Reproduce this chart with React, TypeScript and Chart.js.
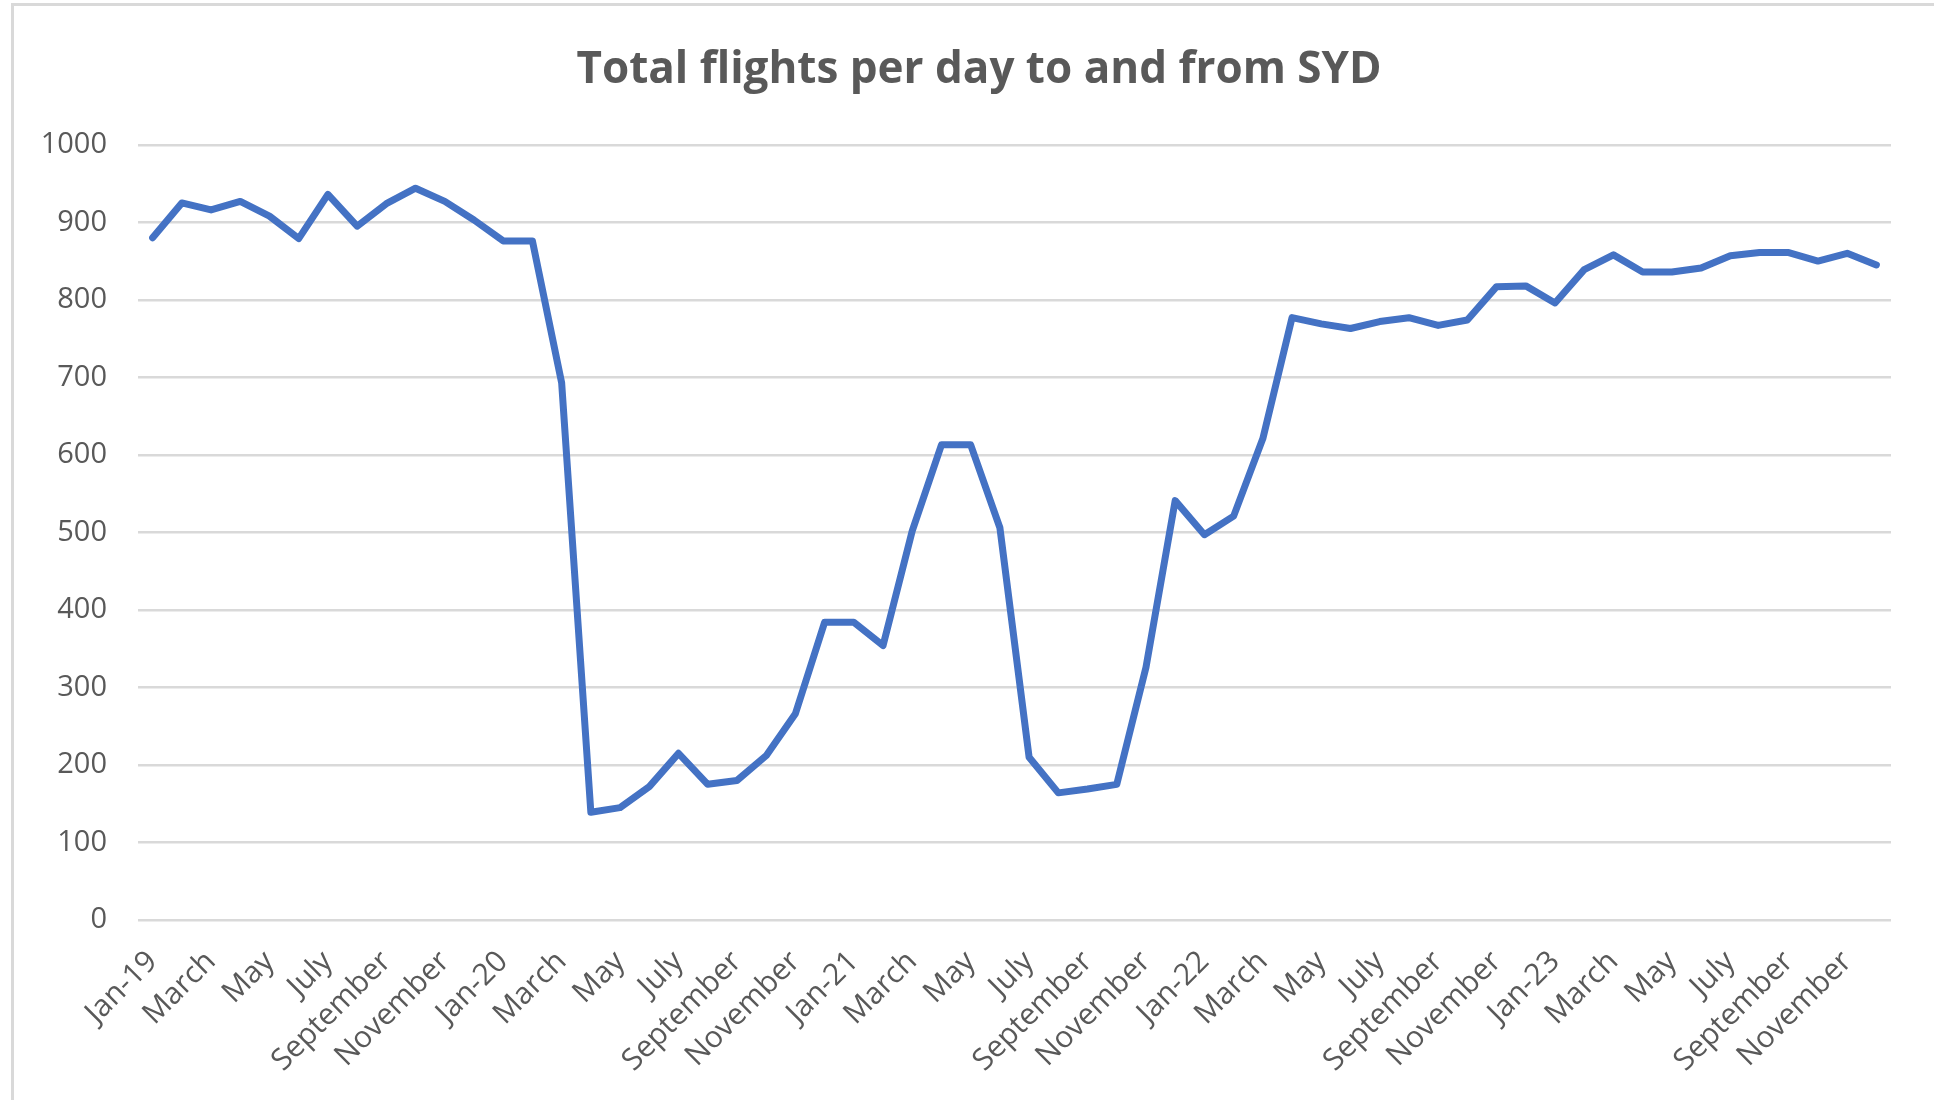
import React, { useEffect, useRef } from "react";
import { Chart, registerables } from "chart.js";

Chart.register(...registerables);

const TITLE = "Total flights per day to and from SYD";

const categories: string[] = [
  "Jan-19", "February", "March", "April", "May", "June", "July", "August", "September", "October", "November", "December",
  "Jan-20", "February", "March", "April", "May", "June", "July", "August", "September", "October", "November", "December",
  "Jan-21", "February", "March", "April", "May", "June", "July", "August", "September", "October", "November", "December",
  "Jan-22", "February", "March", "April", "May", "June", "July", "August", "September", "October", "November", "December",
  "Jan-23", "February", "March", "April", "May", "June", "July", "August", "September", "October", "November", "December",
];

const flights2019: number[] = [880, 925, 916, 927, 908, 879, 936, 895, 924, 944, 927, 903];
const flights2020: number[] = [876, 876, 693, 139, 145, 172, 215, 175, 180, 212, 266, 384];
const flights2021: number[] = [384, 354, 502, 613, 613, 506, 210, 164, 169, 175, 326, 541];
const flights2022: number[] = [497, 521, 621, 777, 769, 763, 772, 777, 767, 774, 817, 818];
const flights2023: number[] = [796, 839, 858, 836, 836, 841, 857, 861, 861, 850, 860, 845];

const yTicks: number[] = [0, 100, 200, 300, 400, 500, 600, 700, 800, 900, 1000];

const FONT = "'Open Sans', 'DejaVu Sans', sans-serif";
const TEXT = "#595959";
const GRID = "#d9d9d9";
const LINE = "#4472C4";

const titleShift = {
  id: "titleShift",
  afterLayout(chart: any) {
    const tb = chart.titleBlock;
    if (tb) {
      tb.left += 21.5;
      tb.right += 21.5;
    }
  },
};

export default function App() {
  const ref = useRef<HTMLCanvasElement | null>(null);

  useEffect(() => {
    if (!ref.current) return;
    const values = [...flights2019, ...flights2020, ...flights2021, ...flights2022, ...flights2023];
    const chart = new Chart(ref.current, {
      type: "line",
      data: {
        labels: categories,
        datasets: [
          {
            data: values,
            borderColor: LINE,
            backgroundColor: LINE,
            borderWidth: 7,
            borderJoinStyle: "round",
            borderCapStyle: "round",
            pointRadius: 0,
            tension: 0,
          },
        ],
      },
      plugins: [titleShift],
      options: {
        animation: false,
        responsive: false,
        devicePixelRatio: 1,
        layout: { padding: { left: 24, right: 43, top: 0, bottom: 0 } },
        plugins: {
          legend: { display: false },
          tooltip: { enabled: false },
          title: {
            display: true,
            text: TITLE,
            color: TEXT,
            font: { family: FONT, size: 44, weight: "bold", lineHeight: 1.2 },
            padding: { top: 44, bottom: 48 },
          },
        },
        scales: {
          x: {
            type: "category",
            offset: true,
            grid: { display: false, drawTicks: false },
            border: { display: false },
            ticks: {
              autoSkip: false,
              maxRotation: 45,
              minRotation: 45,
              color: TEXT,
              padding: 24,
              font: { family: FONT, size: 30 },
              callback: function (this: any, val: any, idx: number) {
                return idx % 2 === 0 ? categories[idx] : null;
              },
            },
            afterFit: (s: any) => {
              s.height = 180;
            },
          },
          y: {
            min: 0,
            max: 1000,
            afterBuildTicks: (s: any) => {
              s.ticks = yTicks.map((v) => ({ value: v }));
            },
            grid: { color: GRID, lineWidth: 2.5, drawTicks: false },
            border: { display: false },
            ticks: {
              color: TEXT,
              padding: 31,
              font: { family: FONT, size: 29 },
              callback: (v: any) => String(v),
            },
            afterFit: (s: any) => {
              s.width = 114;
            },
          },
        },
      },
    });
    return () => chart.destroy();
  }, []);

  return (
    <div style={{ position: "fixed", left: 0, top: 0, width: 1934, height: 1100, background: "#fff", overflow: "hidden" }}>
      <div
        style={{
          position: "absolute",
          left: 11,
          top: 3,
          width: 2000,
          height: 1200,
          borderLeft: "3px solid #d9d9d9",
          borderTop: "3px solid #d9d9d9",
          boxSizing: "border-box",
        }}
      />
      <canvas ref={ref} width={1934} height={1100} style={{ position: "absolute", left: 0, top: 0, width: 1934, height: 1100 }} />
    </div>
  );
}
